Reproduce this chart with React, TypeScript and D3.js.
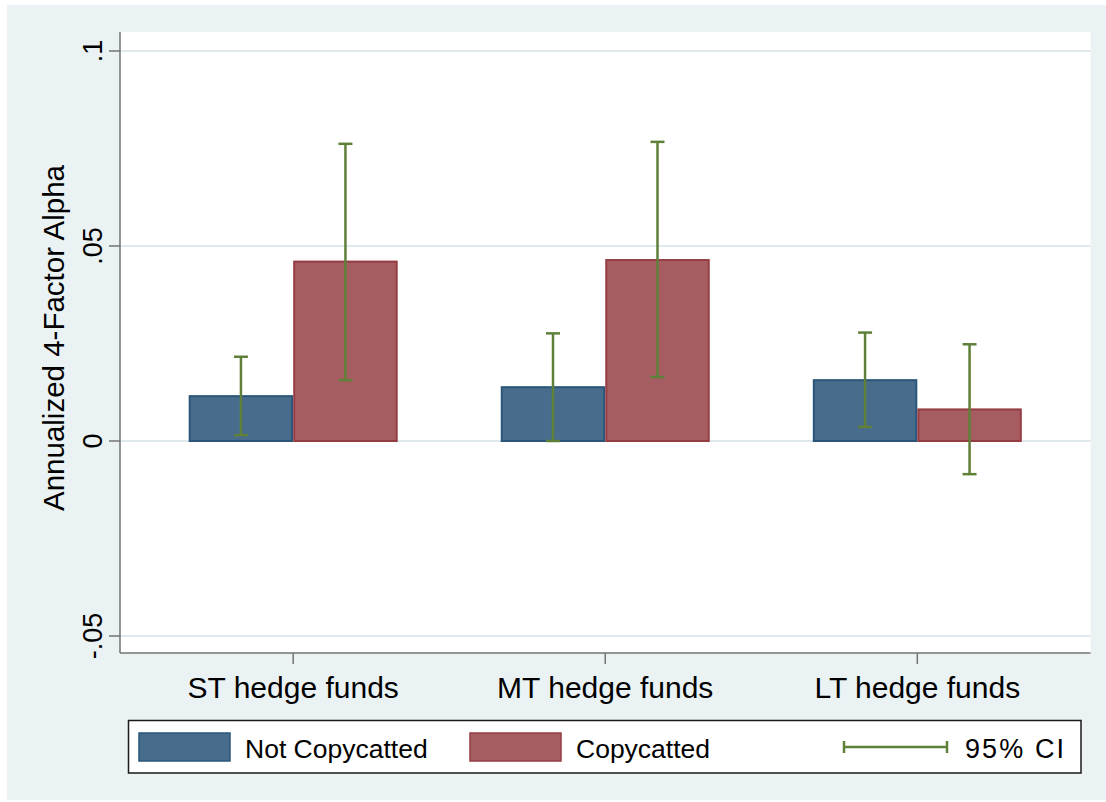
import React, { useEffect, useRef } from 'react'
import * as d3 from 'd3'

// group labels along the x axis
const categories = ['ST hedge funds', 'MT hedge funds', 'LT hedge funds']

// annualized alpha and 95% CI bounds
const notCopycatted = [0.0115, 0.0138, 0.0156]
const notCopycattedLo = [0.0015, 0.0, 0.0036]
const notCopycattedHi = [0.0216, 0.0276, 0.0278]

const copycatted = [0.046, 0.0464, 0.0081]
const copycattedLo = [0.0156, 0.0164, -0.0085]
const copycattedHi = [0.0762, 0.0767, 0.0248]

const yTicks = [-0.05, 0, 0.05, 0.1]
const yTickLabels = ['-.05', '0', '.05', '.1']

const seriesNames = ['Not Copycatted', 'Copycatted']
const ciLabel = '95% CI'

const W = 1106
const H = 802
const plot = { left: 120, right: 1090.5, top: 32, bottom: 653 }
const FONT = 'Liberation Sans, Arial, Helvetica, sans-serif'

const colors = {
    bg: '#eaf2f3',
    grid: '#dfe9ed',
    axis: '#737373',
    fill: ['#486c8c', '#a65d61'],
    stroke: ['#2a5579', '#953c43'],
    ci: '#5f8038'
}

const App: React.FC = () => {
    const ref = useRef<any>()
    useEffect(() => {
        const svg = d3.select(ref.current)
        svg.selectAll('*').remove()

        const y = d3.scaleLinear().domain([-0.05, 0.1]).range([636, 51])
        const x0 = d3
            .scalePoint<string>()
            .domain(categories)
            .range([plot.left, plot.right])
            .padding(0.555)
        const barW = 104.5
        const x1 = d3
            .scaleBand<string>()
            .domain(seriesNames)
            .range([-barW, barW])

        svg.append('rect')
            .attr('x', 7)
            .attr('y', 5)
            .attr('width', W - 7)
            .attr('height', H - 7)
            .attr('fill', colors.bg)

        svg.append('rect')
            .attr('x', plot.left)
            .attr('y', plot.top)
            .attr('width', plot.right - plot.left)
            .attr('height', plot.bottom - plot.top)
            .attr('fill', '#fff')

        // grid
        svg.append('g')
            .selectAll('line')
            .data(yTicks)
            .join('line')
            .attr('x1', plot.left)
            .attr('x2', plot.right)
            .attr('y1', (d) => y(d))
            .attr('y2', (d) => y(d))
            .attr('stroke', colors.grid)
            .attr('stroke-width', 2)

        const rows = categories.map((c, i) => [
            {
                cat: c,
                s: seriesNames[0],
                k: 0,
                v: notCopycatted[i],
                lo: notCopycattedLo[i],
                hi: notCopycattedHi[i]
            },
            {
                cat: c,
                s: seriesNames[1],
                k: 1,
                v: copycatted[i],
                lo: copycattedLo[i],
                hi: copycattedHi[i]
            }
        ])
        const flat = rows.flat()

        // bars
        svg.append('g')
            .selectAll('rect')
            .data(flat)
            .join('rect')
            .attr('x', (d) => (x0(d.cat) as number) + (x1(d.s) as number) + 1)
            .attr('y', (d) => y(Math.max(d.v, 0)))
            .attr('width', x1.bandwidth() - 2)
            .attr('height', (d) => Math.abs(y(d.v) - y(0)))
            .attr('fill', (d) => colors.fill[d.k])
            .attr('stroke', (d) => colors.stroke[d.k])
            .attr('stroke-width', 2)

        // confidence intervals
        const ci = svg.append('g').attr('stroke', colors.ci).attr('stroke-width', 2.5)
        const cx = (d: any) =>
            (x0(d.cat) as number) + (x1(d.s) as number) + x1.bandwidth() / 2
        ci.selectAll('.v')
            .data(flat)
            .join('line')
            .attr('x1', cx)
            .attr('x2', cx)
            .attr('y1', (d) => y(d.lo))
            .attr('y2', (d) => y(d.hi))
        ci.selectAll('.cap')
            .data(flat.flatMap((d) => [{ ...d, at: d.lo }, { ...d, at: d.hi }]))
            .join('line')
            .attr('x1', (d) => cx(d) - 7)
            .attr('x2', (d) => cx(d) + 7)
            .attr('y1', (d) => y(d.at))
            .attr('y2', (d) => y(d.at))

        // axes
        const axes = svg.append('g').attr('stroke', colors.axis).attr('stroke-width', 1.5)
        axes.append('line')
            .attr('x1', plot.left)
            .attr('x2', plot.left)
            .attr('y1', plot.top)
            .attr('y2', plot.bottom)
        axes.append('line')
            .attr('x1', plot.left)
            .attr('x2', plot.right)
            .attr('y1', plot.bottom)
            .attr('y2', plot.bottom)
        axes.selectAll('.yt')
            .data(yTicks)
            .join('line')
            .attr('x1', plot.left - 11)
            .attr('x2', plot.left)
            .attr('y1', (d) => y(d))
            .attr('y2', (d) => y(d))
        svg.append('g')
            .attr('stroke', colors.axis)
            .attr('stroke-width', 1.5)
            .selectAll('line')
            .data(categories)
            .join('line')
            .attr('x1', (d) => x0(d) as number)
            .attr('x2', (d) => x0(d) as number)
            .attr('y1', plot.bottom)
            .attr('y2', plot.bottom + 11)

        svg.append('g')
            .selectAll('text')
            .data(yTicks)
            .join('text')
            .attr('transform', (d) => `translate(92, ${y(d)}) rotate(-90)`)
            .attr('dy', '0.36em')
            .attr('text-anchor', 'middle')
            .attr('style', `font-size: 27px; font-family: ${FONT}`)
            .text((d, i) => yTickLabels[i])

        svg.append('g')
            .selectAll('text')
            .data(categories)
            .join('text')
            .attr('x', (d) => x0(d) as number)
            .attr('y', 698)
            .attr('text-anchor', 'middle')
            .attr('style', `font-size: 30px; font-family: ${FONT}`)
            .text((d) => d)

        svg.append('text')
            .attr('transform', `translate(53, 338) rotate(-90)`)
            .attr('dy', '0.36em')
            .attr('text-anchor', 'middle')
            .attr('style', `font-size: 29.5px; font-family: ${FONT}`)
            .text('Annualized 4-Factor Alpha')

        // legend
        const lg = svg.append('g')
        lg.append('rect')
            .attr('x', 128.5)
            .attr('y', 720.5)
            .attr('width', 952.5)
            .attr('height', 52.5)
            .attr('fill', '#fff')
            .attr('stroke', '#1a1a1a')
            .attr('stroke-width', 1.5)
        const swatchX = [139, 470]
        const textX = [245, 576]
        seriesNames.forEach((s, k) => {
            lg.append('rect')
                .attr('x', swatchX[k])
                .attr('y', 733)
                .attr('width', 91)
                .attr('height', 28)
                .attr('fill', colors.fill[k])
                .attr('stroke', colors.stroke[k])
                .attr('stroke-width', 1.5)
            lg.append('text')
                .attr('x', textX[k])
                .attr('y', 758)
                .attr('style', `font-size: 26.5px; font-family: ${FONT}`)
                .text(s)
        })
        const ciG = lg.append('g').attr('stroke', colors.ci).attr('stroke-width', 2.5)
        ciG.append('line').attr('x1', 843).attr('x2', 948).attr('y1', 747).attr('y2', 747)
        ciG.append('line').attr('x1', 844).attr('x2', 844).attr('y1', 741).attr('y2', 753)
        ciG.append('line').attr('x1', 947).attr('x2', 947).attr('y1', 741).attr('y2', 753)
        lg.append('text')
            .attr('x', 965)
            .attr('y', 758)
            .attr('textLength', 99)
            .attr('lengthAdjust', 'spacing')
            .attr('style', `font-size: 27px; font-family: ${FONT}`)
            .text(ciLabel)
    }, [])
    return (
        <svg
            ref={ref}
            width={W}
            height={H}
            viewBox={`0 0 ${W} ${H}`}
            style={{ position: 'absolute', left: 0, top: 0 }}
        ></svg>
    )
}

export default App
